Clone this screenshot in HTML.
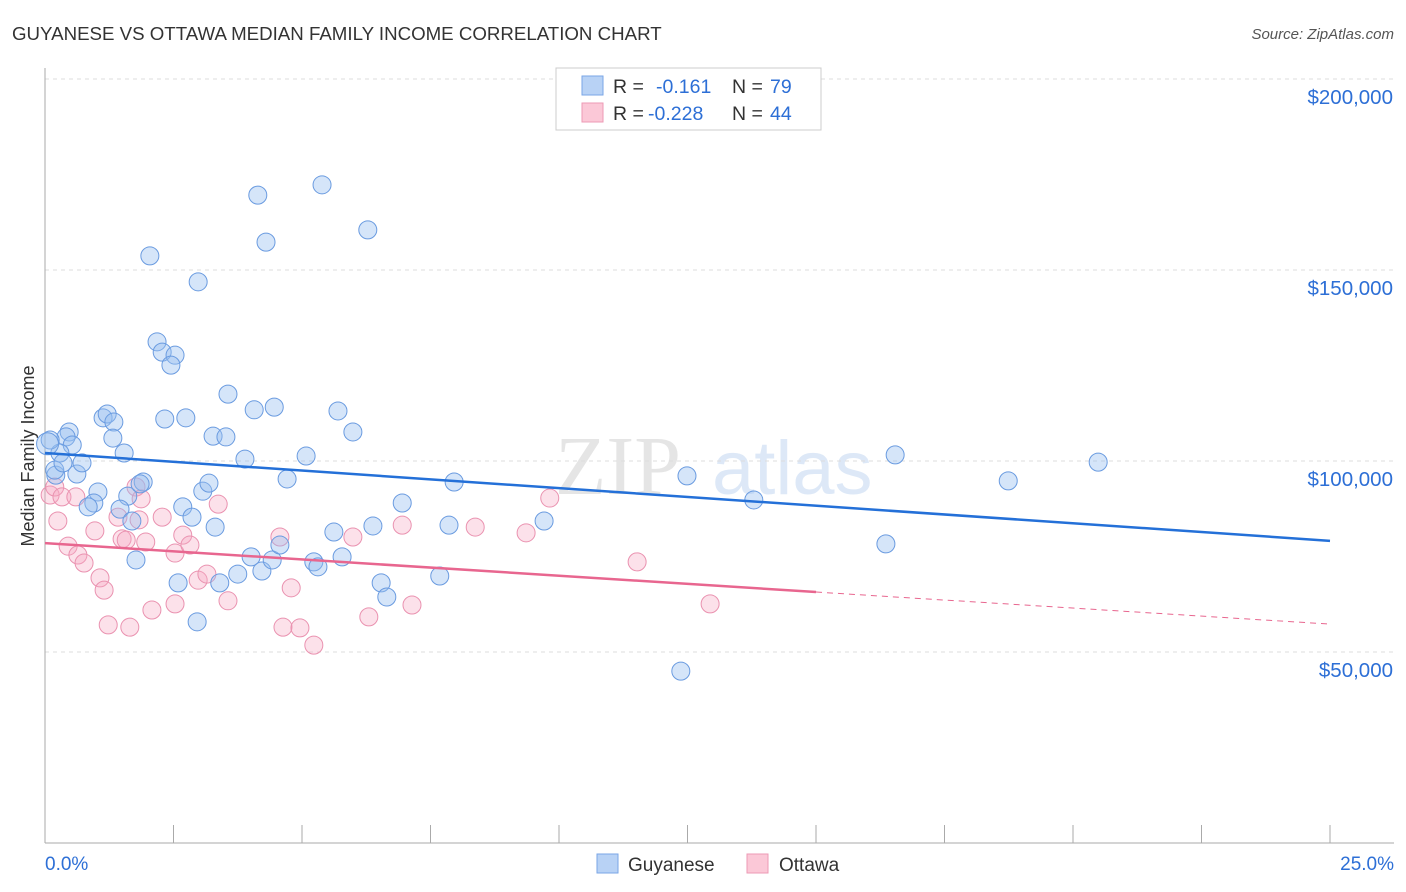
<!DOCTYPE html>
<html><head><meta charset="utf-8">
<style>
body{margin:0;background:#fff;font-family:"Liberation Sans",sans-serif;}
#wrap{position:relative;width:1406px;height:892px;overflow:hidden;}
</style></head>
<body>
<div id="wrap">
<svg id="chart" width="1406" height="892" xmlns="http://www.w3.org/2000/svg">
<text x="12" y="40" font-size="18.7" fill="#333">GUYANESE VS OTTAWA MEDIAN FAMILY INCOME CORRELATION CHART</text>
<text x="1394" y="39" font-size="15" fill="#555" text-anchor="end" font-style="italic">Source: ZipAtlas.com</text>
<text x="34" y="456" font-size="18" fill="#333" text-anchor="middle" transform="rotate(-90 34 456)">Median Family Income</text>
<g opacity="0.25">
<text x="555" y="494" font-size="84" font-family="Liberation Serif,serif" fill="#999">ZIP</text>
<text x="712" y="494" font-size="76" fill="#7aa8e0">atlas</text>
</g>
<g id="grid"></g>
<g id="axes"></g>
<g id="lines"></g>
<g id="pts"></g>
<g>
<rect x="556" y="68" width="265" height="62" fill="#fff" stroke="#ccc"/>
<rect x="582" y="76" width="21" height="19" fill="#b8d2f5" stroke="#7aa6e6"/>
<rect x="582" y="103" width="21" height="19" fill="#fbc8d7" stroke="#ec9ab4"/>
<text x="613" y="93" font-size="19.5" fill="#333">R = </text><text x="656" y="93" font-size="19.5" fill="#2d6fd6">-0.161</text>
<text x="732" y="93" font-size="19.5" fill="#333">N = </text><text x="770" y="93" font-size="19.5" fill="#2d6fd6">79</text>
<text x="613" y="120" font-size="19.5" fill="#333">R = </text><text x="648" y="120" font-size="19.5" fill="#2d6fd6">-0.228</text>
<text x="732" y="120" font-size="19.5" fill="#333">N = </text><text x="770" y="120" font-size="19.5" fill="#2d6fd6">44</text>
</g>
<g>
<rect x="597" y="854" width="21" height="19" fill="#b8d2f5" stroke="#7aa6e6"/>
<text x="628" y="871" font-size="19" fill="#333">Guyanese</text>
<rect x="747" y="854" width="21" height="19" fill="#fbc8d7" stroke="#ec9ab4"/>
<text x="779" y="871" font-size="19" fill="#333">Ottawa</text>
</g>
</svg>
</div>
<script>
const blueX=[0.47,0.41,0.53,0.29,0.21,0.10,0.62,0.72,1.03,0.95,0.84,1.13,1.21,1.34,1.32,1.54,1.61,1.46,1.69,1.77,1.91,1.85,2.04,2.18,2.28,2.53,2.45,2.33,2.74,2.98,2.68,2.86,3.07,3.19,3.31,3.27,3.52,3.56,2.96,2.59,3.40,3.75,3.89,4.07,4.14,4.30,4.46,4.01,4.22,4.42,4.57,4.71,5.08,5.39,5.70,5.99,6.28,5.23,5.31,5.62,5.78,6.38,6.54,6.65,6.95,7.68,7.86,7.96,9.71,12.37,12.49,13.79,16.36,16.54,18.74,20.49,0.19,0.35,0.05];
const blueY=[107.6,106.3,104.2,102.1,96.3,105.5,96.6,99.5,91.9,89.0,88.0,111.3,112.3,110.2,106.0,102.1,90.8,87.4,84.3,74.1,94.5,94.0,153.7,131.2,128.5,127.7,125.1,111.0,111.3,146.9,88.0,85.3,92.1,94.2,82.7,106.5,106.3,117.5,57.9,68.1,68.1,70.4,100.5,113.4,169.6,157.3,114.1,74.9,71.2,74.1,78.0,95.3,101.3,172.3,113.1,107.6,160.5,73.6,72.3,81.4,74.9,83.0,68.1,64.4,89.0,69.9,83.2,94.5,84.3,45.0,96.1,89.8,78.3,101.6,94.8,99.7,97.6,99.5,104.5];
const pinkX=[0.10,0.19,0.33,0.60,0.25,0.45,0.64,0.76,0.97,1.07,1.15,1.23,1.42,1.50,1.58,1.65,1.77,1.87,1.96,2.08,2.28,2.53,2.53,2.68,2.82,2.98,3.15,3.37,3.56,4.57,4.63,4.79,4.96,5.23,5.99,6.30,6.95,7.14,8.37,9.36,9.82,11.52,12.94,1.83];
const pinkY=[91.1,93.2,90.6,90.6,84.3,77.7,75.4,73.3,81.7,69.4,66.2,57.1,85.3,79.6,79.3,56.5,93.2,90.1,78.8,61.0,85.3,62.6,75.9,80.6,78.0,68.8,70.4,88.7,63.4,80.1,56.5,66.8,56.3,51.8,80.1,59.2,83.2,62.3,82.7,81.2,90.3,73.6,62.6,84.6];
const yTicks=[50,100,150,200];
const yTickLabels=["$50,000","$100,000","$150,000","$200,000"];
const blueTrend=[[0,102.1],[25,79.1]];
const pinkTrend=[[0,78.5],[15,65.7]];
const pinkTrendDash=[[15,65.7],[25,57.3]];
const X0=45,X1=1330,YB=843,YT=79;
const sx=v=>X0+(v/25)*(X1-X0);
const sy=v=>YB-(v/200)*(YB-YT);
const NS="http://www.w3.org/2000/svg";
function mk(tag,attrs,parent){const e=document.createElementNS(NS,tag);for(const k in attrs)e.setAttribute(k,attrs[k]);parent.appendChild(e);return e;}
const grid=document.getElementById('grid'),axes=document.getElementById('axes');
yTicks.forEach((t,i)=>{
  const l=mk('line',{x1:X0,x2:1394,y1:sy(t),y2:sy(t),stroke:'#ddd','stroke-dasharray':'4,4'},grid);
  
  
  const tx=mk('text',{x:1393,y:sy(t)+25,'font-size':20.5,fill:'#2d6fd6','text-anchor':'end'},axes);
  tx.textContent=yTickLabels[i];
  
  
});
const ya=mk('line',{x1:X0,x2:X0,y1:68,y2:YB,stroke:'#aaa'},axes);


const xa=mk('line',{x1:X0,x2:1394,y1:YB,y2:YB,stroke:'#aaa'},axes);


for(let i=0;i<=10;i++){const t=mk('line',{x1:sx(i*2.5),x2:sx(i*2.5),y1:YB-18,y2:YB,stroke:'#aaa'},axes);

}
const xl0=mk('text',{x:45,y:870,'font-size':19,fill:'#2d6fd6'},axes);xl0.textContent='0.0%';


const xl1=mk('text',{x:1394,y:870,'font-size':19,fill:'#2d6fd6','text-anchor':'end'},axes);xl1.textContent='25.0%';


const pts=document.getElementById('pts');
pinkX.forEach((x,i)=>{const c=mk('circle',{cx:sx(x),cy:sy(pinkY[i]),r:9,fill:'rgba(246,170,196,0.35)',stroke:'#ea92b0','stroke-width':1},pts);

});
blueX.forEach((x,i)=>{const c=mk('circle',{cx:sx(x),cy:sy(blueY[i]),r:(i==78?11:9),fill:'rgba(150,190,240,0.4)',stroke:'#6a9be0','stroke-width':1},pts);

});
const bl=mk('line',{x1:sx(blueTrend[0][0]),y1:sy(blueTrend[0][1]),x2:sx(blueTrend[1][0]),y2:sy(blueTrend[1][1]),stroke:'#2470d8','stroke-width':2.5},pts);


const pl=mk('line',{x1:sx(pinkTrend[0][0]),y1:sy(pinkTrend[0][1]),x2:sx(pinkTrend[1][0]),y2:sy(pinkTrend[1][1]),stroke:'#e8668f','stroke-width':2.5},pts);


const pd=mk('line',{x1:sx(pinkTrendDash[0][0]),y1:sy(pinkTrendDash[0][1]),x2:sx(pinkTrendDash[1][0]),y2:sy(pinkTrendDash[1][1]),stroke:'#e8668f','stroke-width':1,'stroke-dasharray':'6,5'},pts);


</script>
</body></html>
